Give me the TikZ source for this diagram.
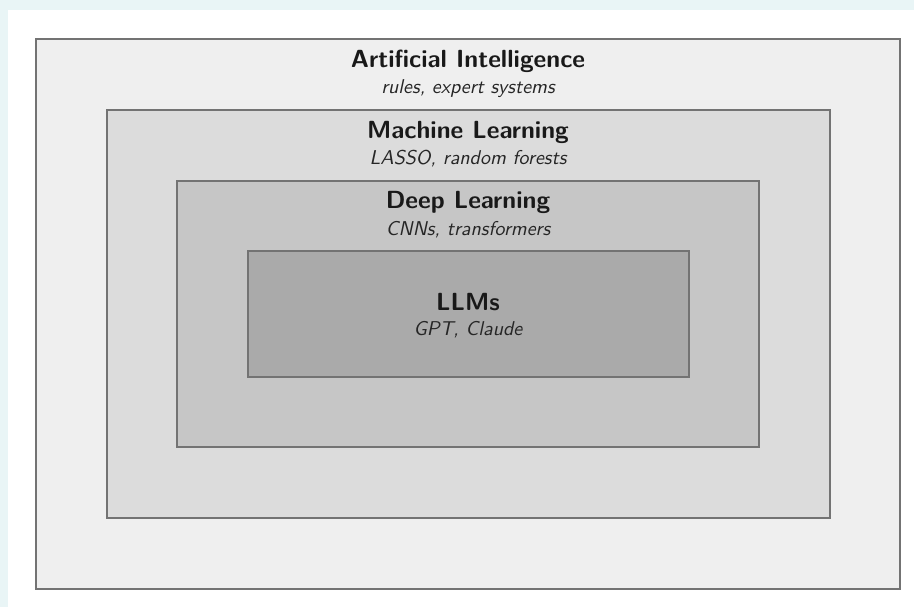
\documentclass[tikz,border=0pt]{standalone}
\usepackage{fontspec}
\newfontfamily\ttlfont{lmsans10-bold.otf}
\newfontfamily\subfont{lmsans10-oblique.otf}
\definecolor{pagebg}{HTML}{E9F5F6}
\definecolor{edge}{HTML}{737373}
\definecolor{fillai}{HTML}{EFEFEF}
\definecolor{fillml}{HTML}{DCDCDC}
\definecolor{filldl}{HTML}{C6C6C6}
\definecolor{fillllm}{HTML}{AAAAAA}
\tikzset{
  layer/.style={draw=edge, line width=1.6pt, inner sep=0pt, outer sep=0pt, rectangle},
  ttl/.style={anchor=base, inner sep=0pt, font=\ttlfont\fontsize{24.8}{28}\selectfont, text=black!90},
  sub/.style={anchor=base, inner sep=0pt, font=\subfont\fontsize{20}{23}\selectfont, text=black!85},
}
\begin{document}
\begin{tikzpicture}[x=1pt,y=-1pt]
  \useasboundingbox (0,0) rectangle (914,607);
  \fill[pagebg] (0,0) rectangle (914,607);
  \fill[white] (8,10) rectangle (914,607);
  \node[layer, fill=fillai, minimum width=864pt, minimum height=550pt] (ai) at (468,314) {};
  \node[layer, fill=fillml, minimum width=723pt, minimum height=408pt] (ml) at (468.5,314) {};
  \node[layer, fill=filldl, minimum width=582pt, minimum height=266pt] (dl) at (468,314) {};
  \node[layer, fill=fillllm, minimum width=441pt, minimum height=126pt] (llm) at (468.5,314) {};
  \node[ttl] (aiT) at (468,68) {Artificial Intelligence};
  \node[sub] (aiS) at (468,94) {rules, expert systems};
  \node[ttl] (mlT) at (468,139) {Machine Learning};
  \node[sub] (mlS) at (468,165) {LASSO, random forests};
  \node[ttl] (dlT) at (468,209) {Deep Learning};
  \node[sub] (dlS) at (468,236) {CNNs, transformers};
  \node[ttl] (llmT) at (468,310) {LLMs};
  \node[sub] (llmS) at (468,335) {GPT, Claude};
\end{tikzpicture}
\end{document}
